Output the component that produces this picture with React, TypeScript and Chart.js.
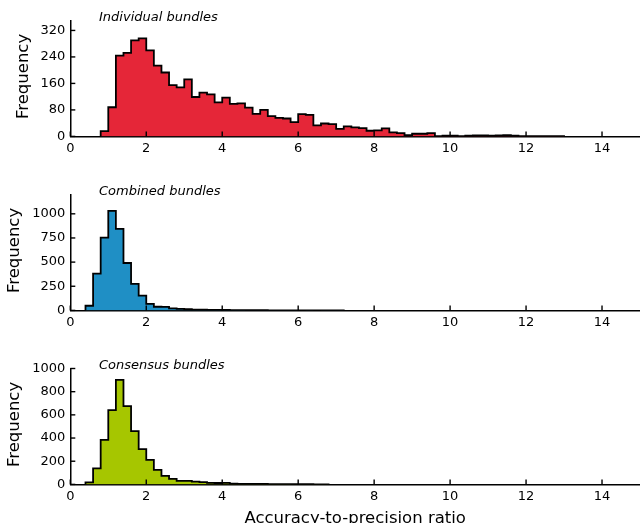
import React, { useEffect, useRef } from "react";
import { Chart, registerables } from "chart.js";

Chart.register(...registerables);

// ---------- data ----------
const BIN_WIDTH = 0.2;

const individualStart = 0.8;
const individualCounts = [
  16, 88, 244, 252, 290, 296, 260, 214, 193, 155, 148, 172, 119, 132, 127, 103,
  117, 98, 100, 87, 68, 80, 61, 56, 54, 43, 67, 65, 33, 39, 37, 23, 30, 27, 25,
  17, 18, 24, 12, 10, 4, 8, 8, 10, 1, 2, 2, 1, 2, 3, 3, 2, 3, 4, 2, 1, 1, 1, 1,
  1, 1,
];

const combinedStart = 0.4;
const combinedCounts = [
  48, 380, 754, 1030, 844, 491, 275, 152, 68, 38, 36, 20, 15, 12, 8, 7, 5, 5, 4,
  3, 3, 2, 2, 2, 1, 1, 1, 1, 0, 1, 0, 1, 1, 1,
];

const consensusStart = 0.4;
const consensusCounts = [
  17, 138, 385, 641, 902, 675, 460, 305, 212, 125, 73, 48, 30, 30, 24, 20, 14,
  12, 14, 6, 5, 5, 4, 4, 3, 3, 3, 2, 2, 2, 1, 1,
];

const panelTitles = ["Individual bundles", "Combined bundles", "Consensus bundles"];
const yMaxes = [350, 1200, 1000];
const individualYTicks = [0, 80, 160, 240, 320];
const combinedYTicks = [0, 250, 500, 750, 1000];
const consensusYTicks = [0, 200, 400, 600, 800, 1000];
const yTickSets = [individualYTicks, combinedYTicks, consensusYTicks];
const xMin = 0;
const xMax = 15;
const xTickValues = [0, 2, 4, 6, 8, 10, 12, 14];
const yAxisLabel = "Frequency";
const xAxisLabel = "Accuracy-to-precision ratio";

const fillColors = ["#e52638", "#1f8fc5", "#a6c600"];

// ---------- helpers ----------
function histPoints(start: number, counts: number[]) {
  const pts: { x: number; y: number }[] = [{ x: start, y: 0 }];
  counts.forEach((c, i) => pts.push({ x: start + i * BIN_WIDTH, y: c }));
  pts.push({ x: start + counts.length * BIN_WIDTH, y: 0 });
  return pts;
}

const FONT = '"DejaVu Sans", "Liberation Sans", sans-serif';
const CHART_TOP = 20.5;
const CHART_BOTTOM = 136.4;
const AXIS_LEFT = 70.3;

function makeDecor(title: string, showXLabel: boolean) {
  return {
    id: "decor",
    afterDatasetsDraw(chart: any) {
      const { ctx, chartArea, scales } = chart;
      ctx.save();
      ctx.strokeStyle = "#000";
      ctx.lineWidth = 1.4;
      scales.x.ticks.forEach((t: any) => {
        const px = scales.x.getPixelForValue(t.value);
        ctx.beginPath();
        ctx.moveTo(px, chartArea.bottom);
        ctx.lineTo(px, chartArea.bottom - 5);
        ctx.stroke();
      });
      scales.y.ticks.forEach((t: any) => {
        const py = scales.y.getPixelForValue(t.value);
        ctx.beginPath();
        ctx.moveTo(chartArea.left, py);
        ctx.lineTo(chartArea.left + 5, py);
        ctx.stroke();
      });
      ctx.restore();
    },
    afterDraw(chart: any) {
      const { ctx, chartArea, scales } = chart;
      ctx.save();
      ctx.fillStyle = "#000";
      // panel title
      ctx.font = `italic 13px ${FONT}`;
      ctx.textAlign = "left";
      ctx.textBaseline = "alphabetic";
      ctx.fillText(title, chartArea.left + 28.7, chartArea.top + 0.5);

      // y axis label
      ctx.font = `13px ${FONT}`;
      let maxW = 0;
      scales.y.ticks.forEach((t: any) => {
        maxW = Math.max(maxW, ctx.measureText(String(t.label)).width);
      });
      const labelsLeft = chartArea.left - 5 - maxW;
      ctx.font = `16.5px ${FONT}`;
      ctx.translate(labelsLeft - 12.8, (chartArea.top + chartArea.bottom) / 2 - 2);
      ctx.rotate(-Math.PI / 2);
      ctx.textAlign = "center";
      ctx.textBaseline = "alphabetic";
      ctx.fillText(yAxisLabel, 0, 0);
      ctx.restore();

      if (showXLabel) {
        ctx.save();
        ctx.fillStyle = "#000";
        ctx.font = `16.5px ${FONT}`;
        ctx.textAlign = "center";
        ctx.textBaseline = "alphabetic";
        ctx.fillText(xAxisLabel, (chartArea.left + chartArea.right) / 2, 174.5);
        ctx.restore();
      }
    },
  };
}

type PanelProps = {
  idx: number;
  start: number;
  counts: number[];
  top: number;
  height: number;
  showXLabel: boolean;
};

function Panel({ idx, start, counts, top, height, showXLabel }: PanelProps) {
  const ref = useRef<HTMLCanvasElement | null>(null);
  useEffect(() => {
    if (!ref.current) return;
    const tickFont = { family: FONT, size: 13 };
    const chart = new Chart(ref.current, {
      type: "line",
      data: {
        datasets: [
          {
            data: histPoints(start, counts),
            stepped: "before",
            fill: "origin",
            backgroundColor: fillColors[idx],
            borderColor: "#000",
            borderWidth: 1.8,
            pointRadius: 0,
            tension: 0,
          } as any,
        ],
      },
      options: {
        responsive: false,
        maintainAspectRatio: false,
        animation: false,
        events: [],
        layout: { padding: { left: 0, right: 0, top: CHART_TOP, bottom: 0 } },
        plugins: { legend: { display: false }, tooltip: { enabled: false } },
        scales: {
          x: {
            type: "linear",
            min: xMin,
            max: xMax,
            grid: { display: false, drawTicks: false },
            border: { display: true, color: "#000", width: 1.5 },
            ticks: {
              autoSkip: false,
              maxRotation: 0,
              padding: 4,
              color: "#000",
              font: tickFont,
              callback: (v: any) => String(v),
            },
            afterBuildTicks: (s: any) => {
              s.ticks = xTickValues.map((v) => ({ value: v }));
            },
            afterFit: (s: any) => {
              s.height = height - CHART_BOTTOM;
            },
          },
          y: {
            type: "linear",
            min: 0,
            max: yMaxes[idx],
            grid: { display: false, drawTicks: false },
            border: { display: true, color: "#000", width: 1.5 },
            ticks: {
              autoSkip: false,
              padding: 5,
              color: "#000",
              font: tickFont,
              callback: (v: any) => String(v),
            },
            afterBuildTicks: (s: any) => {
              s.ticks = yTickSets[idx].map((v) => ({ value: v }));
            },
            afterFit: (s: any) => {
              s.width = AXIS_LEFT;
            },
          },
        },
      },
      plugins: [makeDecor(panelTitles[idx], showXLabel)],
    } as any);
    return () => chart.destroy();
  }, []);
  return (
    <canvas
      ref={ref}
      width={640}
      height={height}
      style={{ position: "absolute", left: 0, top, display: "block", width: 640, height }}
    />
  );
}

export default function App() {
  return (
    <div
      style={{
        position: "absolute",
        left: 0,
        top: 0,
        width: 640,
        height: 523,
        background: "#fff",
        overflow: "hidden",
      }}
    >
      <Panel idx={0} start={individualStart} counts={individualCounts} top={0} height={174} showXLabel={false} />
      <Panel idx={1} start={combinedStart} counts={combinedCounts} top={174} height={174} showXLabel={false} />
      <Panel idx={2} start={consensusStart} counts={consensusCounts} top={348} height={175} showXLabel={true} />
    </div>
  );
}
